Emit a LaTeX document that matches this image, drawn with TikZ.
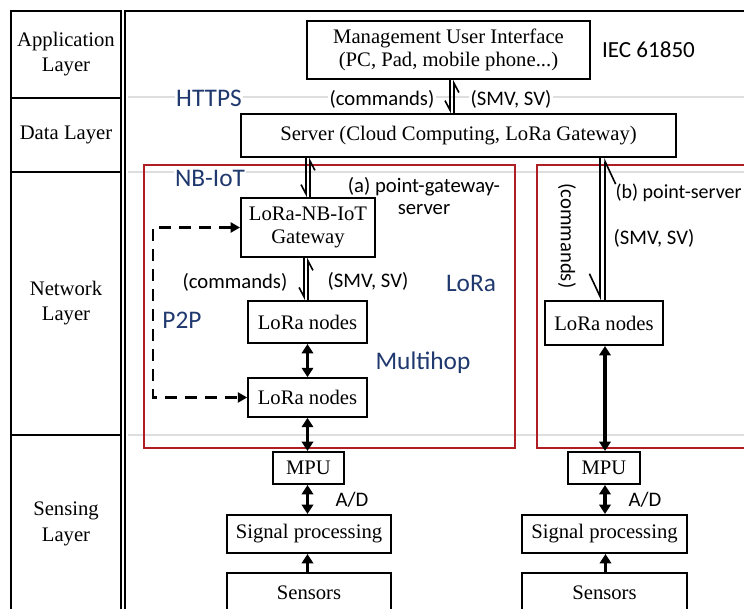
\documentclass[tikz,border=0pt]{standalone}
\usepackage{fontspec}
\setmainfont{Liberation Serif}
\newfontfamily\calibri{Carlito}
\usetikzlibrary{arrows.meta}

\definecolor{framered}{RGB}{175,30,35}
\definecolor{netblue}{RGB}{31,56,110}
\definecolor{guidegray}{RGB}{222,222,222}

\tikzset{
  blk/.style={draw, line width=1.5pt, fill=white, inner sep=1pt, align=center,
    font=\fontsize{15.5}{17.5}\selectfont},
  layername/.style={align=center, font=\fontsize{15.5}{19}\selectfont},
  lbl/.style={font=\calibri\fontsize{15.5}{16.5}\selectfont, inner sep=1pt, align=center},
  netlbl/.style={font=\calibri\fontsize{19}{21}\selectfont, text=netblue, inner sep=1pt},
  half/.style={line width=1.2pt, -{Straight Barb[harpoon,swap,length=7pt,angle'=56]}},
  halflong/.style={line width=1.2pt, -{Straight Barb[harpoon,swap,length=17pt,angle'=50]}},
  duplex/.style={line width=2.4pt, {Triangle[length=7pt,width=8.5pt]}-{Triangle[length=7pt,width=8.5pt]}},
  simplex/.style={line width=1.8pt, -{Triangle[length=7pt,width=8.5pt]}},
  p2parrow/.style={line width=1.7pt, dash pattern=on 9pt off 6pt,
    {Triangle[length=7pt,width=7.5pt]}-{Triangle[length=7pt,width=7.5pt]}},
  guide/.style={guidegray, line width=1.5pt},
  zone/.style={framered, line width=1.5pt}
}

\begin{document}
\begin{tikzpicture}[x={(0.75pt,0)}, y={(0,-0.75pt)}]
  \useasboundingbox (0,0) rectangle (744,609);
  \clip (0,0) rectangle (744,609);

  % layer column
  \draw[line width=1.8pt] (11,640) -- (11,11) -- (121,11) -- (121,640);
  \draw[line width=1.8pt] (11,98) -- (121,98);
  \draw[line width=1.8pt] (11,172) -- (121,172);
  \draw[line width=1.8pt] (11,435) -- (121,435);
  \node[layername] (lapp) at (66,54) {Application\\Layer};
  \node[layername] (ldata) at (66,135) {Data Layer};
  \node[layername] (lnet) at (66,303) {Network\\Layer};
  \node[layername] (lsens) at (66,524) {Sensing\\Layer};

  % main frame
  \draw[line width=1.8pt] (125,640) -- (125,11) -- (760,11);

  % guide lines
  \draw[guide] (128,97.5) -- (744,97.5);
  \draw[guide] (128,172.5) -- (744,172.5);
  \draw[guide] (128,435.5) -- (744,435.5);

  % network zones
  \draw[zone] (144,165) rectangle (515,448);
  \draw[zone] (537,165) rectangle (770,448);

  % blocks
  \node[blk, minimum width=212pt, minimum height=43.5pt] (mui) at (448.5,50)
    {Management User Interface\\(PC, Pad, mobile phone...)};
  \node[blk, minimum width=326pt, minimum height=32pt] (server) at (458.5,135.5)
    {Server (Cloud Computing, LoRa Gateway)};
  \node[blk, minimum width=100.5pt, minimum height=44pt] (gw) at (308,227.5)
    {LoRa-NB-IoT\\Gateway};
  \node[blk, minimum width=89pt, minimum height=31.5pt] (loraA) at (307.5,322) {LoRa nodes};
  \node[blk, minimum width=89pt, minimum height=29pt] (loraB) at (307.5,397.5) {LoRa nodes};
  \node[blk, minimum width=53pt, minimum height=24pt] (mpuA) at (308.5,468) {MPU};
  \node[blk, minimum width=123pt, minimum height=28.5pt] (sigA) at (309,534) {Signal processing};
  \node[blk, minimum width=123pt, minimum height=30pt] (senA) at (309,593) {Sensors};

  \node[blk, minimum width=88.5pt, minimum height=33pt] (loraC) at (604,323) {LoRa nodes};
  \node[blk, minimum width=54pt, minimum height=24pt] (mpuB) at (604,468) {MPU};
  \node[blk, minimum width=124pt, minimum height=28.5pt] (sigB) at (604.5,534) {Signal processing};
  \node[blk, minimum width=124pt, minimum height=30pt] (senB) at (604.5,593) {Sensors};

  % labels
  \node[lbl, font=\calibri\fontsize{17.3}{19}\selectfont] (iec) at (648.5,50) {IEC 61850};
  \node[netlbl, fill=white] (https) at (209,98) {HTTPS};
  \node[lbl, fill=white] (cmdtop) at (382,99) {(commands)};
  \node[lbl, fill=white] (smvtop) at (511,99) {(SMV, SV)};
  \node[netlbl, fill=white] (nbiot) at (210,178) {NB-IoT};
  \node[lbl] (pathA) at (424,196) {(a) point-gateway-\\server};
  \node[lbl] (cmdgw) at (235,282) {(commands)};
  \node[lbl] (smvgw) at (368,281) {(SMV, SV)};
  \node[netlbl] (lora) at (471,283) {LoRa};
  \node[netlbl] (p2p) at (182,320) {P2P};
  \node[netlbl] (multihop) at (423,363) {Multihop};
  \node[lbl] (adA) at (352,500) {A/D};
  \node[lbl] (adB) at (645,500) {A/D};
  \node[lbl, anchor=west, font=\calibri\fontsize{15}{16}\selectfont] (pathB) at (614,193) {(b) point-server};
  \node[lbl] (smvB) at (654,238) {(SMV, SV)};
  \node[lbl, rotate=-90] (cmdB) at (567,236) {(commands)};

  % half arrows (commands down, data up)
  \draw[half] ([xshift=1.1pt]mui.south) -- ([xshift=1.1pt]mui.south |- server.north);
  \draw[half] ([xshift=4.1pt]mui.south |- server.north) -- ([xshift=4.1pt]mui.south);
  \draw[half] ([xshift=-1.5pt]gw.north |- server.south) -- ([xshift=-1.5pt]gw.north);
  \draw[half] ([xshift=1.5pt]gw.north) -- ([xshift=1.5pt]gw.north |- server.south);
  \draw[half] ([xshift=-2.6pt]loraA.north |- gw.south) -- ([xshift=-2.6pt]loraA.north);
  \draw[half] ([xshift=0.4pt]loraA.north) -- ([xshift=0.4pt]loraA.north |- gw.south);
  \draw[halflong] ([xshift=-3pt]loraC.north |- server.south) -- ([xshift=-3pt]loraC.north);
  \draw[halflong] ([xshift=0.8pt]loraC.north) -- ([xshift=0.8pt]loraC.north |- server.south);

  % links
  \draw[duplex] (loraA.south) -- (loraA.south |- loraB.north);
  \draw[duplex] (loraB.south) -- (loraB.south |- mpuA.north);
  \draw[duplex] (mpuA.south -| loraB.south) -- (loraB.south |- sigA.north);
  \draw[simplex] (senA.north -| loraB.south) -- (loraB.south |- sigA.south);
  \draw[duplex] ([xshift=0.75pt]loraC.south) -- ([xshift=0.75pt]loraC.south |- mpuB.north);
  \draw[duplex] ([xshift=0.75pt]mpuB.south) -- ([xshift=0.75pt]mpuB.south |- sigB.north);
  \draw[simplex] ([xshift=0.75pt]senB.north) -- ([xshift=0.75pt]senB.north |- sigB.south);

  % P2P link
  \coordinate (p2pl) at (153,0);
  \draw[p2parrow] (gw.west) -- (gw.west -| p2pl) |- (loraB.west);
\end{tikzpicture}
\end{document}
